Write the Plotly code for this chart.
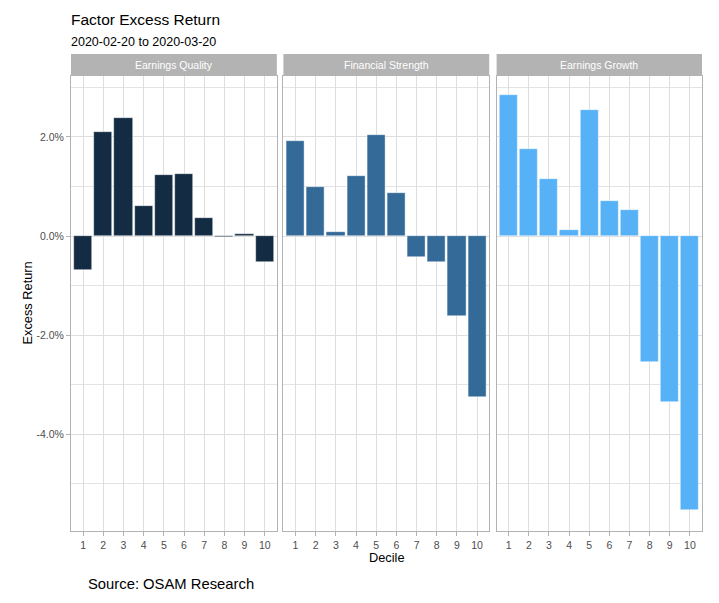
import plotly.graph_objects as go
from plotly.subplots import make_subplots

deciles = [1, 2, 3, 4, 5, 6, 7, 8, 9, 10]
factors = ["Earnings Quality", "Financial Strength", "Earnings Growth"]
earnings_quality = [-0.69, 2.10, 2.39, 0.60, 1.24, 1.25, 0.36, -0.02, 0.05, -0.53]
financial_strength = [1.92, 0.99, 0.08, 1.22, 2.03, 0.87, -0.42, -0.52, -1.61, -3.25]
earnings_growth = [2.84, 1.75, 1.16, 0.12, 2.54, 0.70, 0.52, -2.54, -3.35, -5.52]
series = [earnings_quality, financial_strength, earnings_growth]
colors = ["#132B43", "#336A98", "#56B1F7"]

OFF = 8  # page body margin
W, H = 719 - OFF, 603 - OFF
L, R, T, B = 71 - OFF, 17, 76 - OFF, 72
pw = W - L - R
ph = H - T - B

fig = make_subplots(rows=1, cols=3, shared_yaxes=True, horizontal_spacing=0.0105)
domains = [[0, 0.3262], [0.3366, 0.6628], [0.6745, 1.0]]

FONT = "Liberation Sans, Arial, sans-serif"
grid_major = "#DEDEDE"
border = "#B3B3B3"

for i, (vals, col) in enumerate(zip(series, colors)):
    fig.add_trace(go.Bar(x=deciles, y=vals, width=0.9,
                         marker=dict(color=col, line=dict(color="rgba(255,255,255,0.7)", width=0.6)),
                         showlegend=False, hoverinfo="x+y"),
                  row=1, col=i + 1)
    ax = "xaxis" if i == 0 else f"xaxis{i+1}"
    fig.layout[ax].update(domain=domains[i])

fig.update_xaxes(range=[0.4, 10.6], tickvals=deciles, ticktext=[str(d) for d in deciles],
                 showgrid=True, gridcolor=grid_major, gridwidth=1,
                 showline=True, linecolor=border, linewidth=1, mirror=True,
                 ticks="outside", ticklen=4, tickcolor=border, tickwidth=1,
                 tickfont=dict(family=FONT, size=10.5, color="#4D4D4D"),
                 zeroline=False, fixedrange=True)
fig.update_yaxes(range=[-5.95, 3.23], tickvals=[-4, -2, 0, 2],
                 ticktext=["-4.0%", "-2.0%", "0.0%", "2.0%"],
                 showgrid=True, gridcolor=grid_major, gridwidth=1.2,
                 minor=dict(tickvals=[-5, -3, -1, 1, 3], showgrid=True,
                            gridcolor="#E3E3E3", gridwidth=0.9, ticks=""),
                 showline=True, linecolor=border, linewidth=1, mirror=True,
                 zeroline=False, fixedrange=True)
fig.update_yaxes(ticks="outside", ticklen=4, tickcolor=border, tickwidth=1,
                 tickfont=dict(family=FONT, size=10.5, color="#4D4D4D"), row=1, col=1)

strip_h = 22 / ph
shapes = []
annotations = []
for i, name in enumerate(factors):
    d = domains[i]
    shapes.append(dict(type="rect", xref="paper", yref="paper", x0=d[0], x1=d[1],
                       y0=1.0, y1=1.0 + strip_h, fillcolor="#B3B3B3", line=dict(width=0),
                       layer="below"))
    annotations.append(dict(text=name, xref="paper", yref="paper", x=(d[0] + d[1]) / 2,
                            y=1.0 + strip_h / 2, xanchor="center", yanchor="middle",
                            showarrow=False, font=dict(family=FONT, size=10.5, color="#FFFFFF")))

# helpers: convert reference-screen pixel coordinates to paper coords
def py(p):
    return (H - B - (p - OFF)) / ph

def px(p):
    return ((p - OFF) - L) / pw

annotations += [
    dict(text="Factor Excess Return", xref="paper", yref="paper", x=px(69), y=py(19.5),
         xanchor="left", yanchor="middle", showarrow=False,
         font=dict(family=FONT, size=15.5, color="#000000")),
    dict(text="2020-02-20 to 2020-03-20", xref="paper", yref="paper", x=px(69), y=py(42),
         xanchor="left", yanchor="middle", showarrow=False,
         font=dict(family=FONT, size=12.5, color="#000000")),
    dict(text="Source: OSAM Research", xref="paper", yref="paper", x=px(86), y=py(584),
         xanchor="left", yanchor="middle", showarrow=False,
         font=dict(family=FONT, size=14.8, color="#000000")),
    dict(text="Decile", xref="paper", yref="paper", x=0.5, y=py(557.5),
         xanchor="center", yanchor="middle", showarrow=False,
         font=dict(family=FONT, size=12.8, color="#000000")),
    dict(text="Excess Return", xref="paper", yref="paper", x=px(27), y=0.5,
         xanchor="center", yanchor="middle", showarrow=False, textangle=-90,
         font=dict(family=FONT, size=12.8, color="#000000")),
]

fig.update_layout(width=W, height=H, margin=dict(l=L, r=R, t=T, b=B, autoexpand=False),
                  paper_bgcolor="white", plot_bgcolor="white", bargap=0,
                  shapes=shapes, annotations=annotations,
                  font=dict(family=FONT))

fig.write_html("out.html")
